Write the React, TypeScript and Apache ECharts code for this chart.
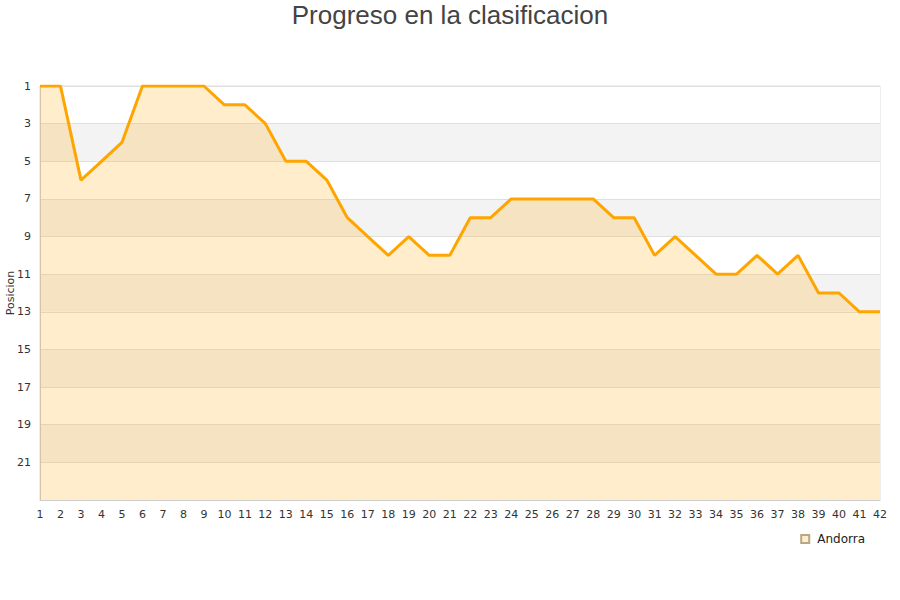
import React, { useEffect, useRef } from "react";
import * as echarts from "echarts";

const rounds: string[] = Array.from({ length: 42 }, (_, i) => String(i + 1));
const positions: number[] = [
  1, 1, 6, 5, 4, 1, 1, 1, 1, 2, 2, 3, 5, 5, 6, 8, 9, 10, 9, 10, 10,
  8, 8, 7, 7, 7, 7, 7, 8, 8, 10, 9, 10, 11, 11, 10, 11, 10, 12, 12, 13, 13,
];
const teamName = "Andorra";
const chartTitle = "Progreso en la clasificacion";
const yAxisName = "Posicion";
const yMin = 1;
const yMax = 23;

export default function App() {
  const ref = useRef<HTMLDivElement>(null);
  useEffect(() => {
    if (!ref.current) return;
    const chart = echarts.init(ref.current, undefined, { renderer: "svg" });
    chart.setOption({
      animation: false,
      title: {
        text: chartTitle,
        left: "center",
        top: -3,
        textStyle: {
          fontFamily: "Liberation Sans",
          fontSize: 26,
          fontWeight: "normal",
          color: "#444",
        },
      },
      legend: {
        data: [{ name: teamName, icon: "rect" }],
        right: 30,
        top: 528,
        itemWidth: 8,
        itemHeight: 8,
        itemGap: 10,
        textStyle: { fontFamily: "DejaVu Sans", fontSize: 12, color: "#222", padding: [0, 0, 0, 3] },
      },
      grid: {
        left: 40,
        right: 20,
        top: 86,
        bottom: 100,
        outerBoundsMode: "none",
        containLabel: false,
        show: true,
        borderColor: "#ddd",
        borderWidth: 1,
      },
      xAxis: {
        type: "category",
        data: rounds,
        boundaryGap: false,
        axisLine: { lineStyle: { color: "#ccc" } },
        axisTick: { show: false },
        axisLabel: {
          fontFamily: "DejaVu Sans",
          fontSize: 11,
          color: "#333",
          margin: 9,
          interval: 0,
        },
        splitLine: { show: false },
      },
      yAxis: {
        type: "value",
        inverse: true,
        min: yMin,
        max: yMax,
        interval: 2,
        name: yAxisName,
        nameLocation: "middle",
        nameGap: 24,
        nameMoveOverlap: false,
        nameTextStyle: { fontFamily: "DejaVu Sans", fontSize: 11, color: "#333" },
        axisLine: { show: true, lineStyle: { color: "#ccc" } },
        axisTick: { show: false },
        axisLabel: {
          fontFamily: "DejaVu Sans",
          fontSize: 11,
          color: "#333",
          margin: 9,
          showMaxLabel: false,
          formatter: (v: number) => (v === yMax ? "" : String(v)),
        },
        splitLine: { show: true, lineStyle: { color: "#e0e0e0" } },
        splitArea: { show: true, areaStyle: { color: ["#ffffff", "#f3f3f3"] } },
      },
      series: [
        {
          name: teamName,
          type: "line",
          data: positions,
          symbol: "none",
          lineStyle: { color: "#FFA500", width: 3 },
          itemStyle: { color: "#FFEDCC", borderColor: "#b8a888", borderWidth: 1 },
          areaStyle: { color: "rgba(255,165,0,0.2)", opacity: 1, origin: "end" },
        },
      ],
    });
    return () => chart.dispose();
  }, []);
  return <div ref={ref} style={{ width: 900, height: 600, position: "absolute", left: 0, top: 0 }} />;
}
